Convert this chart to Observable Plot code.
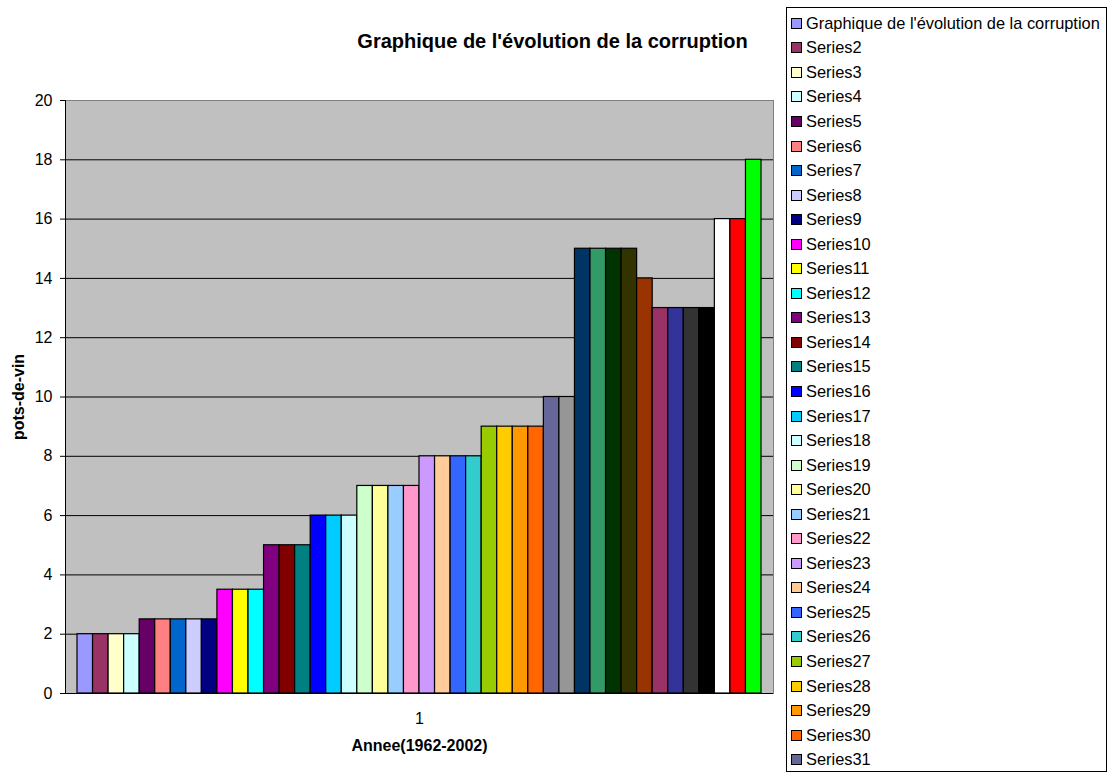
<!DOCTYPE html>
<html>
<head>
<meta charset="utf-8">
<script src="https://cdn.jsdelivr.net/npm/d3@7"></script>
<script src="https://cdn.jsdelivr.net/npm/@observablehq/plot@0.6"></script>
<style>
  html, body { margin: 0; padding: 0; background: #fff; }
  body { font-family: "Liberation Sans", Arial, sans-serif; }
  #wrap { position: relative; width: 1109px; height: 775px; }
  #legend {
    position: absolute; left: 786px; top: 7px; width: 321px; height: 765px;
    border: 1px solid #000; box-sizing: border-box; background: #fff;
    padding-top: 3px; font-size: 16.4px; color: #000;
  }
  .item { height: 24.55px; display: flex; align-items: center; white-space: nowrap; }
  .sw { width: 9px; height: 9px; border: 1px solid #000; margin-left: 4px; margin-right: 4px; flex: none; }
</style>
</head>
<body>
<div id="wrap"><div id="legend"></div></div>
<script>
const title = "Graphique de l'évolution de la corruption";
const yLabel = "pots-de-vin";
const xLabel = "Annee(1962-2002)";
const categoryLabels = ["1"];
const yTicks = [0, 2, 4, 6, 8, 10, 12, 14, 16, 18, 20];

const seriesNames = [title].concat(d3.range(2, 45).map(i => "Series" + i));
const values = [2, 2, 2, 2, 2.5, 2.5, 2.5, 2.5, 2.5, 3.5, 3.5, 3.5, 5, 5, 5, 6, 6, 6,
  7, 7, 7, 7, 8, 8, 8, 8, 9, 9, 9, 9, 10, 10, 15, 15, 15, 15, 14, 13, 13, 13, 13, 16, 16, 18];
const colors = ["#9999FF", "#993366", "#FFFFCC", "#CCFFFF", "#660066", "#FF8080", "#0066CC", "#CCCCFF",
  "#000080", "#FF00FF", "#FFFF00", "#00FFFF", "#800080", "#800000", "#008080", "#0000FF", "#00CCFF",
  "#CCFFFF", "#CCFFCC", "#FFFF99", "#99CCFF", "#FF99CC", "#CC99FF", "#FFCC99", "#3366FF", "#33CCCC",
  "#99CC00", "#FFCC00", "#FF9900", "#FF6600", "#666699", "#969696", "#003366", "#339966", "#003300",
  "#333300", "#993300", "#993366", "#333399", "#333333", "#000000", "#FFFFFF", "#FF0000", "#00FF00"];
const legendCount = 31;

const data = seriesNames.map((name, i) => ({name, value: values[i], color: colors[i]}));

const chart = Plot.plot({
  width: 1109,
  height: 775,
  marginLeft: 65,
  marginRight: 336,
  marginTop: 100,
  marginBottom: 82,
  style: {fontFamily: "'Liberation Sans', Arial, sans-serif", fontSize: "16px", color: "#000", background: "transparent"},
  x: {type: "band", domain: seriesNames, range: [77, 761], paddingInner: 0, paddingOuter: 0, round: false, axis: null},
  y: {domain: [0, 20], ticks: yTicks, axis: null},
  marks: [
    Plot.frame({fill: "#C0C0C0", stroke: "#808080"}),
    Plot.gridY(yTicks.filter(t => t > 0 && t < 20), {stroke: "#000", strokeOpacity: 1}),
    Plot.axisY(yTicks, {tickSize: 5, tickPadding: 8, fontSize: 16, stroke: "#000", label: null}),
    Plot.barY(data, {x: "name", y: "value", fill: "color", stroke: "#000", strokeWidth: 1.2}),
    Plot.ruleY([0], {stroke: "#000"}),
    Plot.frame({anchor: "left", stroke: "#000"}),
    Plot.text(categoryLabels, {frameAnchor: "bottom", dy: 25, lineAnchor: "middle", textAnchor: "middle", fontSize: 16}),
    Plot.text([xLabel], {frameAnchor: "bottom", dy: 52, lineAnchor: "middle", textAnchor: "middle", fontSize: 16, fontWeight: "bold"}),
    Plot.text([yLabel], {frameAnchor: "left", dx: -47, rotate: -90, lineAnchor: "middle", textAnchor: "middle", fontSize: 16, fontWeight: "bold"}),
    Plot.text([title], {frameAnchor: "top", dx: 133, dy: -59, lineAnchor: "middle", textAnchor: "middle", fontSize: 20, fontWeight: "bold"})
  ]
});
document.getElementById("wrap").prepend(chart);

const legend = document.getElementById("legend");
data.slice(0, legendCount).forEach(d => {
  const item = document.createElement("div");
  item.className = "item";
  const sw = document.createElement("span");
  sw.className = "sw";
  sw.style.background = d.color;
  const label = document.createElement("span");
  label.textContent = d.name;
  item.append(sw, label);
  legend.append(item);
});
</script>
</body>
</html>
